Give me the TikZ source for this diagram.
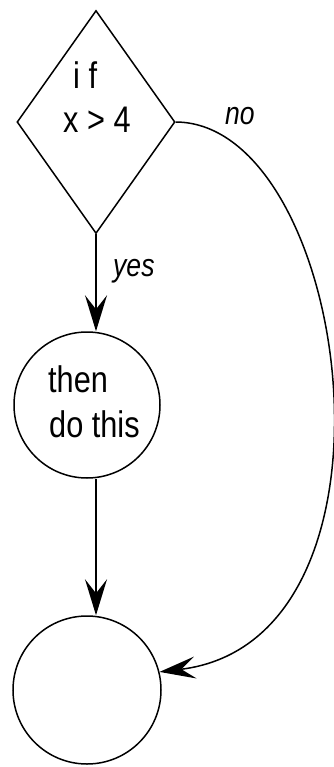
\documentclass[tikz,border=0pt]{standalone}
\usepackage{fontspec}
\setmainfont{Liberation Sans}
\newfontfamily\narrowfont[FakeStretch=0.83]{Liberation Sans}
\usetikzlibrary{shapes.geometric,arrows.meta}
\begin{document}
\begin{tikzpicture}[x=1pt,y=-1pt,
  shapeline/.style={draw, line width=1.5pt, inner sep=0pt},
  bigtext/.style={font=\narrowfont\fontsize{37}{44}\selectfont, inner sep=0pt, anchor=base west},
  lbltext/.style={font=\narrowfont\fontsize{32}{38}\selectfont\itshape, inner sep=0pt, anchor=base west},
  arr/.style={line width=1.5pt, -{Stealth[length=36pt,width=22pt,inset=14pt]}}]
\useasboundingbox (0,0) rectangle (334,767);
\node[shapeline, diamond, minimum width=158pt, minimum height=223pt] (d) at (96,122) {};
\node[shapeline, circle, minimum size=146pt] (c1) at (87,405) {};
\node[shapeline, circle, minimum size=148pt] (c2) at (87,690) {};
\node[bigtext] (ifa) at (73,89) {i f};
\node[bigtext] (ifb) at (63,133) {x > 4};
\node[bigtext] (then) at (48,392) {then};
\node[bigtext] (dothis) at (49,437) {do this};
\node[lbltext] (yes) at (113,276) {yes};
\node[lbltext] (no) at (225,125) {no};
\draw[arr] (d.south) -- (d.south |- c1.north);
\draw[arr] (d.south |- c1.south) -- (d.south |- c2.north);
\draw[arr] (d.east) .. controls (350,123) and (420,640) .. (c2.14);
\end{tikzpicture}
\end{document}
